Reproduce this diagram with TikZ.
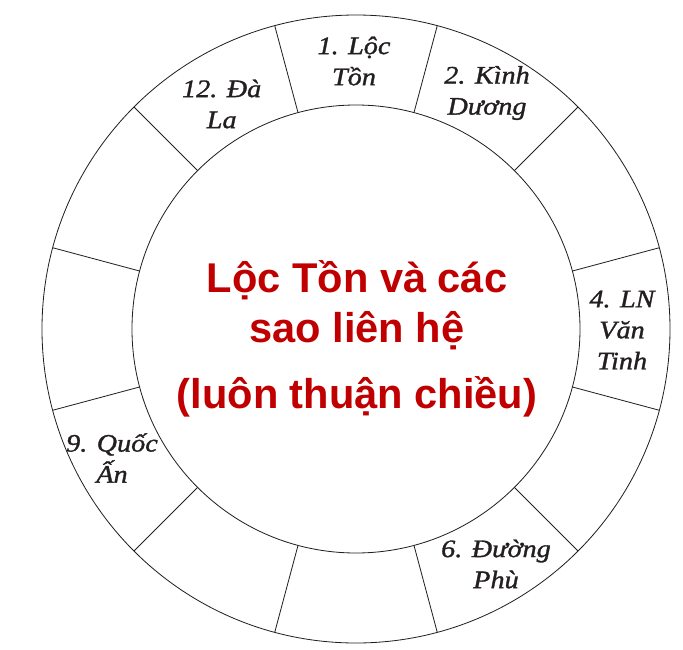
\documentclass[tikz,border=0pt]{standalone}
\usepackage{fontspec}
\setmainfont{Liberation Serif}
\newfontfamily\cungfont[FakeStretch=1.12,FakeBold=1.2]{Liberation Serif}
\newfontfamily\tieudefont{Liberation Sans}
\definecolor{chuden}{HTML}{231F20}
\definecolor{dodam}{HTML}{C00000}
\tikzset{
  cung/.style={text=chuden, align=center, inner sep=0pt,
    font=\cungfont\itshape\fontsize{21.5}{26.5}\selectfont},
  tieude/.style={text=dodam, align=center, inner sep=0pt,
    font=\tieudefont\bfseries\fontsize{35.5}{42.7}\selectfont},
  vien/.style={draw=chuden, line width=0.7pt}
}
\begin{document}
\begin{tikzpicture}
            \useasboundingbox (-10.68,-9.6) rectangle (9.81,9.87);
            \draw[vien] (0,0) circle (9.42);
            \draw[vien] (0,0) circle (6.72);
            \draw[vien] (15:6.72) -- (15:9.42);
            \draw[vien] (45:6.72) -- (45:9.42);
            \draw[vien] (75:6.72) -- (75:9.42);
            \draw[vien] (105:6.72) -- (105:9.42);
            \draw[vien] (135:6.72) -- (135:9.42);
            \draw[vien] (165:6.72) -- (165:9.42);
            \draw[vien] (195:6.72) -- (195:9.42);
            \draw[vien] (225:6.72) -- (225:9.42);
            \draw[vien] (255:6.72) -- (255:9.42);
            \draw[vien] (285:6.72) -- (285:9.42);
            \draw[vien] (315:6.72) -- (315:9.42);
            \draw[vien] (345:6.72) -- (345:9.42);
            \node[cung] (LocTon) at (-0.06, 8.04) {1. Lộc\\Tồn};
            \node[cung] (KinhDuong) at (3.93, 7.08) {2. Kình\\Dương};
            \node[cung] (VanTinh) at (7.98, -0.03) {4. LN\\Văn\\Tinh};
            \node[cung] (DuongPhu) at (4.2, -7.05) {6. Đường\\Phù};
            \node[cung] (QuocAn) at (-7.32, -3.87) {9. Quốc\\Ấn};
            \node[cung] (DaLa) at (-4.03, 6.75) {12. Đà\\La};
            \node[tieude, anchor=base] (TieuDe) at (0.03, -2.37) {Lộc Tồn và các\\sao liên hệ\\[13.6pt](luôn thuận chiều)};
        \end{tikzpicture}
\end{document}
